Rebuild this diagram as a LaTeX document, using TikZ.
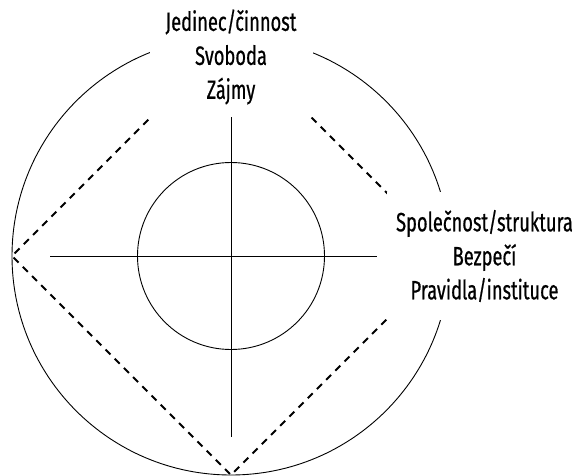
\documentclass[tikz,border=0pt]{standalone}
\usepackage{fontspec}
\setmainfont[FakeStretch=0.69,FakeBold=0.6]{Fira Sans}
\begin{document}
\begin{tikzpicture}[x=1pt,y=-1pt,
  thinline/.style={line width=0.9pt, black},
  dashline/.style={line width=2.1pt, black, dash pattern=on 7pt off 6pt},
  label/.style={align=center, font=\fontsize{26.5}{34}\selectfont, inner sep=0pt}]
\useasboundingbox (0,0) rectangle (582,475);
\coordinate (O) at (231,256);
\coordinate (L) at (12,256);
\coordinate (B) at (231,475);
\coordinate (T) at (231,37);
\coordinate (R) at (450,256);
% outer circle and diamond
\draw[thinline] (O) circle[radius=219pt];
\draw[dashline] (T) -- (L) -- (B) -- (R) -- cycle;
% masks under the texts
\fill[white] (150,0) rectangle (313,117);
\fill[white] (387,192) rectangle (582,320);
% cross and inner circle
\coordinate (hl) at (50,256);
\coordinate (hr) at (377,256);
\coordinate (vt) at (231,117);
\coordinate (vb) at (231,437);
\draw[thinline] (hl) -- (hr);
\draw[thinline] (vt) -- (vb);
\draw[thinline] (O) circle[radius=93.5pt];
% texts
\node[label] (top) at (231,57) {Jedinec/činnost\\Svoboda\\Zájmy};
\node[label] (right) at (484.5,256) {Společnost/struktura\\Bezpečí\\Pravidla/instituce};
\end{tikzpicture}
\end{document}
